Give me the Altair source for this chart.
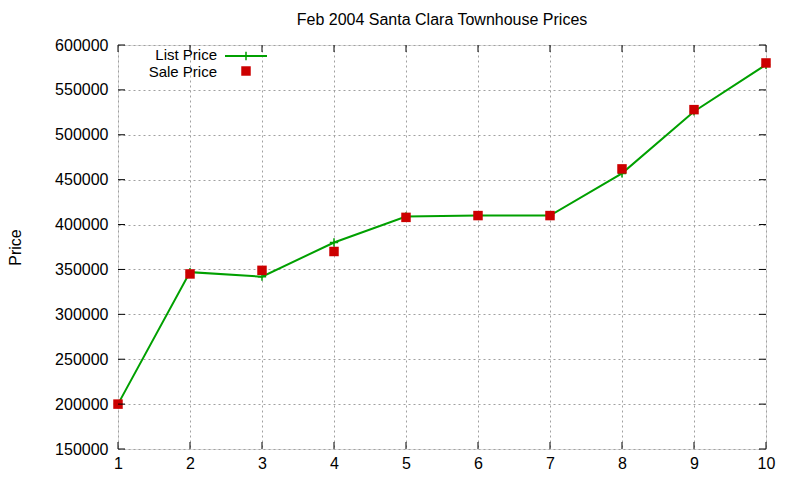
import altair as alt
import pandas as pd

# Data
houses = [1, 2, 3, 4, 5, 6, 7, 8, 9, 10]
list_price = [200000, 347000, 342000, 380000, 409000, 410000, 410000, 457000, 526000, 578000]
sale_price = [200000, 345000, 349000, 370000, 408000, 410000, 410000, 462000, 528000, 580000]
x_ticks = [1, 2, 3, 4, 5, 6, 7, 8, 9, 10]
y_ticks = [150000, 200000, 250000, 300000, 350000, 400000, 450000, 500000, 550000, 600000]

GREEN = "#00a000"
RED = "#cc0000"
FONT = "Liberation Sans"
FS = 16
W, H = 648, 404

df = pd.DataFrame({"n": houses, "list": list_price, "sale": sale_price})
xt = pd.DataFrame({"t": x_ticks})
yt = pd.DataFrame({"t": y_ticks})

xscale = alt.Scale(domain=[1, 10], nice=False, zero=False)
yscale = alt.Scale(domain=[150000, 600000], nice=False, zero=False)

xax = alt.Axis(values=x_ticks, format="d", title=None, grid=True, gridDash=[2, 3],
               gridColor="#a0a0a0", gridWidth=1, ticks=False, domain=False,
               labelFlush=False, labelOverlap=False,
               labelFont=FONT, labelFontSize=FS, labelColor="#000", labelPadding=6)
yax = alt.Axis(values=y_ticks, format="d", title="Price", grid=True, gridDash=[2, 3],
               gridColor="#a0a0a0", gridWidth=1, ticks=False, domain=False,
               labelFlush=False, labelOverlap=False,
               labelFont=FONT, labelFontSize=FS, labelColor="#000", labelPadding=10,
               titleFont=FONT, titleFontSize=FS, titleFontWeight="normal",
               titleColor="#000", titlePadding=31)

X = alt.X("n:Q", scale=xscale, axis=xax)

line = alt.Chart(df).mark_line(color=GREEN, strokeWidth=2).encode(
    x=X, y=alt.Y("list:Q", scale=yscale, axis=yax))

cross = "M-1,0L1,0M0,-1L0,1"
plus = alt.Chart(df).mark_point(shape=cross, filled=False, color=GREEN,
                                strokeWidth=1.5, size=70, opacity=1).encode(
    x=alt.X("n:Q", scale=xscale), y=alt.Y("list:Q", scale=yscale))

squares = alt.Chart(df).mark_square(color=RED, size=90, opacity=1).encode(
    x=alt.X("n:Q", scale=xscale), y=alt.Y("sale:Q", scale=yscale))

# inward ticks on all four sides
tb = alt.Chart(xt).mark_rule(color="black", strokeWidth=1).encode(
    x=alt.X("t:Q", scale=xscale), y=alt.value(H - 7), y2=alt.value(H))
tt = alt.Chart(xt).mark_rule(color="black", strokeWidth=1).encode(
    x=alt.X("t:Q", scale=xscale), y=alt.value(0), y2=alt.value(7))
tl = alt.Chart(yt).mark_rule(color="black", strokeWidth=1).encode(
    y=alt.Y("t:Q", scale=yscale), x=alt.value(0), x2=alt.value(7))
tr = alt.Chart(yt).mark_rule(color="black", strokeWidth=1).encode(
    y=alt.Y("t:Q", scale=yscale), x=alt.value(W - 7), x2=alt.value(W))

# gnuplot-style key, top-left inside the plot
LFS = 15
leg = pd.DataFrame({"label": ["List Price", "Sale Price"]})
leg_list = alt.Chart(leg.iloc[[0]]).mark_text(align="right", baseline="middle", font=FONT,
                                               fontSize=LFS, color="black").encode(
    text="label:N", x=alt.value(99), y=alt.value(10))
leg_sale = alt.Chart(leg.iloc[[1]]).mark_text(align="right", baseline="middle", font=FONT,
                                               fontSize=LFS, color="black").encode(
    text="label:N", x=alt.value(99), y=alt.value(27))
leg_line = alt.Chart(leg.iloc[[0]]).mark_rule(color=GREEN, strokeWidth=2).encode(
    x=alt.value(107), x2=alt.value(149), y=alt.value(11))
leg_plus = alt.Chart(leg.iloc[[0]]).mark_point(shape=cross, filled=False, color=GREEN,
                                               strokeWidth=1.5, size=70, opacity=1).encode(
    x=alt.value(128), y=alt.value(11))
leg_sq = alt.Chart(leg.iloc[[1]]).mark_square(color=RED, size=90, opacity=1).encode(
    x=alt.value(128), y=alt.value(26))

chart = alt.layer(line, plus, squares, tb, tt, tl, tr,
                  leg_list, leg_sale, leg_line, leg_plus, leg_sq).properties(
    width=W, height=H,
    title=alt.TitleParams("Feb 2004 Santa Clara Townhouse Prices", font=FONT, fontSize=FS,
                          fontWeight="normal", color="black", anchor="middle", offset=9),
    autosize=alt.AutoSizeParams(type="none"),
    padding={"left": 110, "top": 37, "right": 26, "bottom": 23},
).configure_view(stroke="black", strokeWidth=1).configure(background="white")

chart.save("out.html", embed_options={"renderer": "svg", "actions": False})
